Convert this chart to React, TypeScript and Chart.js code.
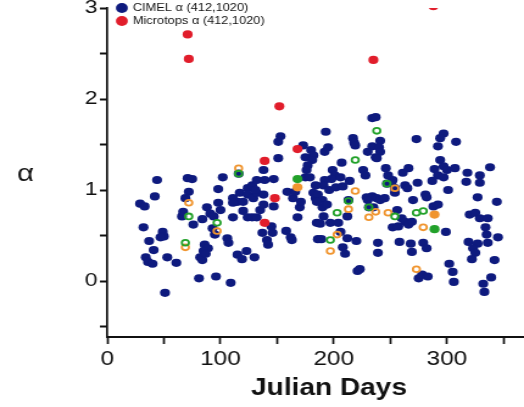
import React, { useEffect, useRef } from 'react';
import { Chart, registerables } from 'chart.js';

Chart.register(...registerables);

// CIMEL α (412,1020)
const cimelDays = [
  29, 33, 32, 37, 41, 34, 36, 40, 51, 49, 50, 47, 53, 61, 44, 42, 71, 75, 72, 69, 66, 67, 76,
  102, 98, 116, 84, 88, 91, 94, 95, 93, 86, 89, 85, 82, 84, 87, 81, 96, 109, 106, 107, 115, 119,
  123, 130, 111, 124, 128, 120, 115, 120, 111, 117, 124, 128, 132, 124, 129, 98, 100, 111,
  153, 151, 151, 138, 139, 147, 132, 138, 135, 138, 147, 132, 137, 146, 145, 141, 142, 158, 162,
  163, 170, 168, 159, 164, 171, 131, 166,
  173, 180, 182, 175, 181, 177, 176, 175, 179, 192, 195, 193, 199, 201, 198, 206, 207, 192, 191,
  184, 182, 184, 186, 196, 190, 202, 190, 194, 185, 185, 186, 188, 191, 197, 204, 206, 189,
  208, 214, 217, 218, 219, 226, 228, 234, 237, 241, 234, 240, 230, 237, 241, 238, 213, 229, 234,
  230, 238, 235, 241, 212, 212, 220, 208, 210, 239, 239, 221, 223, 231,
  246, 248, 266, 261, 252, 251, 263, 265, 274, 273, 247, 254, 245, 254, 270, 256, 260, 263, 266,
  269, 252, 257, 258, 268, 269, 275,
  297, 294, 308, 292, 294, 289, 297, 292, 297, 300, 287, 307, 301, 281, 282, 288, 292, 279, 282,
  278, 283, 299, 302, 305, 306,
  318, 329, 317, 329, 338, 327, 344, 320, 325, 329, 336, 334, 335, 345, 319, 327, 323, 325, 336,
  342, 322, 339, 332, 333,
];
const cimelAlpha = [
  0.85, 0.82, 0.59, 0.44, 0.34, 0.26, 0.21, 0.19, -0.13, 0.54, 0.49, 0.48, 0.26, 0.2, 1.11, 0.93,
  1.13, 1.12, 0.98, 0.91, 0.71, 0.76, 0.62,
  1.14, 1.01, 1.18, 0.68, 0.81, 0.74, 0.71, 0.51, 0.58, 0.4, 0.36, 0.33, 0.26, 0.23, 0.3, 0.03,
  0.05, -0.02, 0.47, 0.42, 0.29, 0.24, 0.33, 0.26, 0.7, 0.7, 0.7, 0.77, 0.87, 0.87, 0.91, 0.97,
  1.02, 1.05, 1.11, 0.95, 0.91, 0.86, 0.78, 0.86,
  1.59, 1.53, 1.35, 1.22, 1.11, 1.12, 0.97, 0.95, 0.78, 0.84, 0.82, 0.7, 0.53, 0.53, 0.6, 0.45,
  0.4, 0.55, 0.48, 0.45, 0.81, 0.7, 0.98, 0.91, 0.87, 1.0, 0.98,
  1.49, 1.44, 1.38, 1.36, 1.33, 1.27, 1.22, 1.14, 1.14, 1.42, 1.47, 1.64, 1.22, 1.16, 1.12, 1.14,
  1.3, 1.11, 1.05, 1.05, 0.97, 0.91, 0.95, 1.0, 0.89, 1.03, 0.81, 0.84, 0.87, 0.64, 0.46, 0.63,
  0.71, 0.64, 0.64, 0.54, 0.46,
  1.04, 1.1, 1.57, 1.52, 1.49, 1.22, 1.16, 1.79, 1.8, 1.54, 1.48, 1.47, 1.42, 1.36, 1.42, 1.35,
  0.89, 0.92, 0.93, 0.89, 0.91, 0.81, 0.89, 0.71, 0.47, 0.44, 0.37, 0.3, 0.42, 0.31, 0.11, 0.13,
  0.81,
  1.24, 1.16, 1.24, 1.19, 1.11, 1.08, 1.05, 1.02, 1.08, 1.56, 1.07, 1.02, 0.91, 0.97, 0.89, 0.78,
  0.69, 0.65, 0.62, 0.65, 0.59, 0.6, 0.43, 0.41, 0.32, 0.03,
  1.62, 1.57, 1.53, 1.48, 1.33, 1.23, 1.26, 1.16, 1.14, 1.22, 1.1, 1.24, 1.0, 0.95, 0.92, 0.82,
  0.84, 0.42, 0.36, 0.07, 0.05, 0.54, 0.19, 0.1, -0.01,
  1.19, 1.16, 1.09, 1.08, 1.25, 0.92, 0.87, 0.73, 0.75, 0.69, 0.69, 0.59, 0.51, 0.48, 0.43, 0.41,
  0.36, 0.31, 0.42, 0.23, 0.24, 0.04, -0.03, -0.12,
];

// Microtops α (412,1020)
const microDays = [71, 72, 152, 235, 288, 139, 168, 148, 139];
const microAlpha = [2.71, 2.44, 1.92, 2.43, 3.02, 1.32, 1.45, 0.91, 0.64];

// green open circles
const greenDays = [116, 72, 97, 69, 238, 219, 247, 213, 203, 197, 254, 273, 279, 231];
const greenAlpha = [1.18, 0.71, 0.64, 0.42, 1.65, 1.33, 1.07, 0.88, 0.75, 0.45, 0.71, 0.75, 0.77, 0.81];
// green filled
const greenFillDays = [168, 289];
const greenFillAlpha = [1.12, 0.57];

// orange open circles
const orangeDays = [116, 72, 97, 69, 219, 254, 213, 237, 231, 248, 203, 197, 279, 273];
const orangeAlpha = [1.24, 0.86, 0.55, 0.37, 0.99, 1.02, 0.79, 0.76, 0.7, 0.75, 0.51, 0.33, 0.59, 0.13];
// orange filled
const orangeFillDays = [168, 289];
const orangeFillAlpha = [1.03, 0.73];

const xTicksMajor = [0, 100, 200, 300];
const yTicksMajor = [0, 1, 2, 3];

const NAVY = '#0e1a7e';
const RED = '#e11d2b';
const GREEN = '#22a12a';
const ORANGE = '#f0952f';
const FONT = '"Liberation Sans", Arial, Helvetica, sans-serif';

// the reference figure is horizontally stretched; draw on a narrower canvas and stretch it
const VIEW_W = 524;
const VIEW_H = 407;
const CANVAS_W = 430;

const pts = (xs: number[], ys: number[]) => xs.map((x, i) => ({ x, y: ys[i] }));

const overlayPlugin = {
  id: 'overlay',
  afterDraw(chart: any) {
    const ctx = chart.ctx as CanvasRenderingContext2D;
    ctx.save();
    // legend
    ctx.fillStyle = NAVY;
    ctx.beginPath();
    ctx.arc(100, 8, 4.9, 0, Math.PI * 2);
    ctx.fill();
    ctx.fillStyle = RED;
    ctx.beginPath();
    ctx.arc(100, 21, 4.9, 0, Math.PI * 2);
    ctx.fill();
    ctx.fillStyle = '#111';
    ctx.font = `10.5px ${FONT}`;
    ctx.textAlign = 'left';
    ctx.textBaseline = 'middle';
    ctx.fillText('CIMEL \u03B1 (412,1020)', 109, 8);
    ctx.fillText('Microtops \u03B1 (412,1020)', 109, 21);
    // axis titles
    ctx.textAlign = 'center';
    ctx.font = `bold 23px ${FONT}`;
    ctx.fillText('Julian Days', 270, 389);
    ctx.font = `24px ${FONT}`;
    ctx.fillText('\u03B1', 21, 174);
    ctx.restore();
  },
};

const zeroPad = (s: any) => {
  s.paddingTop = 0;
  s.paddingBottom = 0;
  s.paddingLeft = 0;
  s.paddingRight = 0;
};

export default function App() {
  const ref = useRef<HTMLCanvasElement | null>(null);
  useEffect(() => {
    if (!ref.current) return;
    const chart = new Chart(ref.current, {
      type: 'scatter',
      data: {
        datasets: [
          {
            label: 'Microtops \u03B1 (412,1020)',
            data: pts(microDays, microAlpha),
            backgroundColor: RED,
            borderWidth: 0,
            pointRadius: 4.1,
            order: 1,
          },
          {
            label: 'Green (open)',
            data: pts(greenDays, greenAlpha),
            backgroundColor: 'rgba(0,0,0,0)',
            borderColor: GREEN,
            borderWidth: 1.8,
            pointRadius: 2.9,
            order: 2,
          },
          {
            label: 'Orange (open)',
            data: pts(orangeDays, orangeAlpha),
            backgroundColor: 'rgba(0,0,0,0)',
            borderColor: ORANGE,
            borderWidth: 1.8,
            pointRadius: 2.9,
            order: 2,
          },
          {
            label: 'Green (filled)',
            data: pts(greenFillDays, greenFillAlpha),
            backgroundColor: GREEN,
            borderWidth: 0,
            pointRadius: 4.1,
            order: 3,
          },
          {
            label: 'Orange (filled)',
            data: pts(orangeFillDays, orangeFillAlpha),
            backgroundColor: ORANGE,
            borderWidth: 0,
            pointRadius: 4.1,
            order: 3,
          },
          {
            label: 'CIMEL \u03B1 (412,1020)',
            data: pts(cimelDays, cimelAlpha),
            backgroundColor: NAVY,
            borderWidth: 0,
            pointRadius: 4.1,
            order: 5,
          },
        ],
      },
      options: {
        animation: false,
        responsive: false,
        maintainAspectRatio: false,
        layout: { autoPadding: false, padding: { top: 8, right: 0, bottom: 0, left: 0 } },
        plugins: { legend: { display: false }, tooltip: { enabled: false } },
        scales: {
          x: {
            type: 'linear',
            min: 0,
            max: 368,
            ticks: {
              stepSize: 50,
              includeBounds: false,
              autoSkip: false,
              maxRotation: 0,
              padding: 3,
              color: '#111',
              font: { size: 20, family: FONT },
              callback: (v: any) => (xTicksMajor.includes(Number(v)) ? String(v) : ''),
            },
            grid: {
              drawOnChartArea: false,
              drawTicks: true,
              tickLength: 7,
              tickWidth: 1.7,
              tickColor: '#111',
            },
            border: { display: true, width: 2, color: '#111' },
            afterFit: (s: any) => {
              s.height = 70;
              zeroPad(s);
            },
          },
          y: {
            type: 'linear',
            min: -0.615,
            max: 3,
            ticks: {
              stepSize: 0.5,
              includeBounds: false,
              autoSkip: false,
              padding: 2,
              color: '#111',
              font: { size: 19, family: FONT },
              callback: (v: any) => (yTicksMajor.includes(Number(v)) ? String(v) : ''),
            },
            grid: {
              drawOnChartArea: false,
              drawTicks: true,
              tickLength: 6,
              tickWidth: 2,
              tickColor: '#111',
            },
            border: { display: true, width: 1.7, color: '#111' },
            afterFit: (s: any) => {
              s.width = 88;
              zeroPad(s);
            },
          },
        },
      },
      plugins: [overlayPlugin],
    });
    return () => chart.destroy();
  }, []);
  return (
    <div style={{ position: 'fixed', left: 0, top: 0, width: VIEW_W, height: VIEW_H, background: '#fff' }}>
      <canvas
        ref={ref}
        width={CANVAS_W}
        height={VIEW_H}
        style={{ width: VIEW_W, height: VIEW_H, display: 'block' }}
      />
    </div>
  );
}
